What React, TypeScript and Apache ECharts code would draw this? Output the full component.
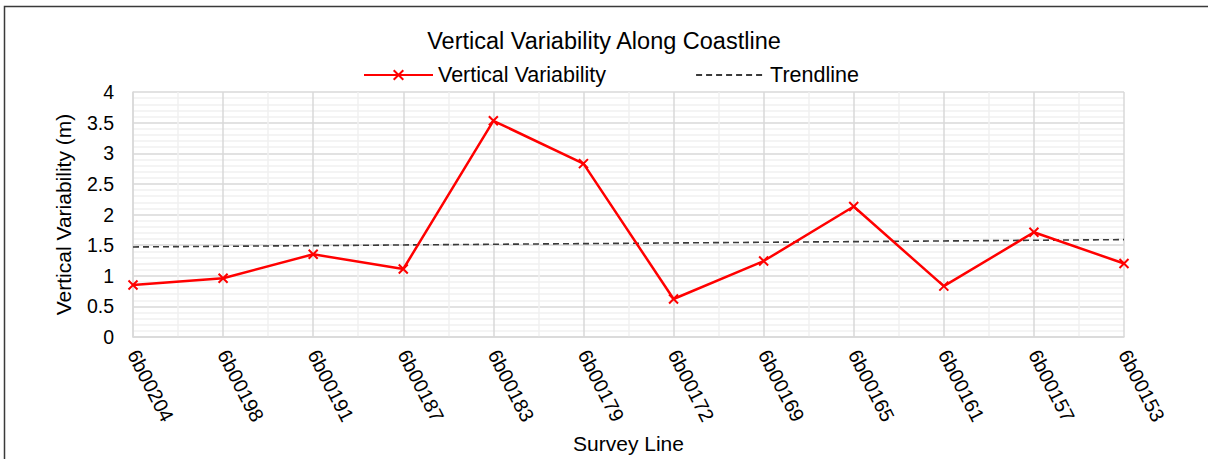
import React, { useEffect, useRef } from "react";
import * as echarts from "echarts";

const categories = [
  "6b00204", "6b00198", "6b00191", "6b00187", "6b00183", "6b00179",
  "6b00172", "6b00169", "6b00165", "6b00161", "6b00157", "6b00153",
];
const variability = [0.85, 0.96, 1.35, 1.11, 3.53, 2.83, 0.62, 1.24, 2.13, 0.83, 1.71, 1.2];
const trendStart = 1.47;
const trendEnd = 1.59;

const FONT = "'Liberation Sans', Arial, sans-serif";

export default function App() {
  const ref = useRef<HTMLDivElement>(null);
  useEffect(() => {
    if (!ref.current) return;
    const chart = echarts.init(ref.current, undefined, { renderer: "svg" });
    chart.setOption({
      animation: false,
      backgroundColor: "#ffffff",
      textStyle: { fontFamily: FONT },
      title: {
        text: "Vertical Variability Along Coastline",
        left: "center",
        top: 24,
        textStyle: { fontFamily: FONT, fontSize: 23.5, fontWeight: "normal", color: "#000" },
      },
      legend: {
        top: 59,
        left: 358,
        itemWidth: 69,
        itemHeight: 12,
        itemGap: 89,
        textStyle: { fontFamily: FONT, fontSize: 21.5, color: "#000" },
        data: [
          { name: "Vertical Variability" },
          { name: "Trendline", itemStyle: { opacity: 0 } },
        ],
      },
      graphic: [
        {
          type: "rect",
          shape: { x: 4.5, y: 6.5, width: 1300, height: 600 },
          style: { fill: "none", stroke: "#3a3a3a", lineWidth: 1.5 },
          silent: true,
        },
      ],
      grid: { left: 133, right: 84, top: 92, bottom: 121, containLabel: false },
      xAxis: [
        {
          type: "category",
          data: categories,
          boundaryGap: false,
          name: "Survey Line",
          nameLocation: "middle",
          nameGap: 96,
          nameTextStyle: { fontFamily: FONT, fontSize: 21, color: "#000" },
          axisLine: { lineStyle: { color: "#d9d9d9", width: 1.5 } },
          axisTick: { show: false },
          axisLabel: {
            rotate: -63,
            margin: 14,
            fontFamily: FONT,
            fontSize: 20,
            color: "#000",
            interval: 0,
          },
          splitLine: { show: true, lineStyle: { color: "#d9d9d9", width: 1.5 } },
        },
        {
          type: "value",
          min: 0,
          max: 11,
          interval: 1,
          position: "top",
          axisLine: { show: false },
          axisTick: { show: false },
          axisLabel: { show: false },
          splitLine: { show: false },
          minorTick: { show: false, splitNumber: 2 },
          minorSplitLine: { show: true, lineStyle: { color: "#f0f0f0", width: 1.5 } },
        },
      ],
      yAxis: {
        type: "value",
        min: 0,
        max: 4,
        interval: 0.5,
        name: "Vertical Variability (m)",
        nameLocation: "middle",
        nameGap: 59,
        nameTextStyle: { fontFamily: FONT, fontSize: 21, color: "#000" },
        axisLine: { show: true, lineStyle: { color: "#d9d9d9", width: 1.5 } },
        axisTick: { show: false },
        axisLabel: { fontFamily: FONT, fontSize: 19.5, color: "#000", margin: 19 },
        splitLine: { show: true, lineStyle: { color: "#d9d9d9", width: 1.5 } },
        minorTick: { show: false, splitNumber: 5 },
        minorSplitLine: { show: true, lineStyle: { color: "#f0f0f0", width: 1.5 } },
      },
      series: [
        {
          name: "Vertical Variability",
          type: "line",
          xAxisIndex: 0,
          data: variability,
          symbol: "path://M0,0L10,10M10,0L0,10",
          symbolSize: 9,
          itemStyle: { color: "#ff0000", borderColor: "#ff0000", borderWidth: 2 },
          lineStyle: { color: "#ff0000", width: 2.5 },
          z: 5,
        },
        {
          name: "Trendline",
          type: "line",
          xAxisIndex: 0,
          data: [
            [0, trendStart],
            [categories.length - 1, trendEnd],
          ],
          symbol: "none",
          itemStyle: { color: "#404040" },
          lineStyle: { color: "#3a3a3a", width: 1.6, type: [6, 4] },
          z: 4,
        },
      ],
    });
    return () => chart.dispose();
  }, []);
  return (
    <div
      ref={ref}
      style={{ position: "fixed", left: 0, top: 0, width: 1208, height: 459 }}
    />
  );
}
